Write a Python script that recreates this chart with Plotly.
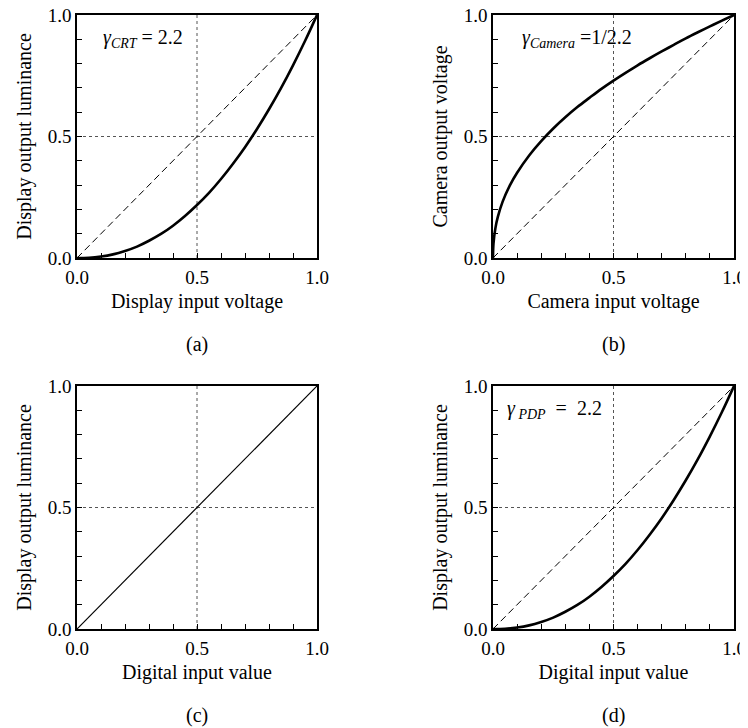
import plotly.graph_objects as go

# ---------------- data ----------------
pow_x = [0.0, 0.05, 0.10, 0.15, 0.20, 0.25, 0.30, 0.35, 0.40, 0.45, 0.50,
         0.55, 0.60, 0.65, 0.70, 0.75, 0.80, 0.85, 0.90, 0.95, 1.0]
crt_y = [0.0, 0.001, 0.006, 0.015, 0.029, 0.047, 0.071, 0.099, 0.133, 0.173, 0.218,
         0.268, 0.325, 0.388, 0.456, 0.531, 0.612, 0.699, 0.793, 0.893, 1.0]
pdp_y = [0.0, 0.001, 0.006, 0.015, 0.029, 0.047, 0.071, 0.099, 0.133, 0.173, 0.218,
         0.268, 0.325, 0.388, 0.456, 0.531, 0.612, 0.699, 0.793, 0.893, 1.0]
cam_x = [0.0, 0.002, 0.01, 0.02, 0.04, 0.07, 0.10, 0.15, 0.20, 0.25, 0.30, 0.35, 0.40,
         0.45, 0.50, 0.55, 0.60, 0.65, 0.70, 0.75, 0.80, 0.85, 0.90, 0.95, 1.0]
cam_y = [0.0, 0.059, 0.123, 0.169, 0.232, 0.299, 0.351, 0.422, 0.481, 0.533, 0.579, 0.621, 0.659,
         0.696, 0.730, 0.762, 0.793, 0.822, 0.850, 0.877, 0.904, 0.929, 0.953, 0.977, 1.0]
lin_x = [0.0, 1.0]
lin_y = [0.0, 1.0]
ref_x = [0.0, 1.0]
ref_y = [0.0, 1.0]
grid_at = 0.5
major_ticks = [0.0, 0.5, 1.0]
major_text = ["0.0", "0.5", "1.0"]
minor_step = 0.1

x_titles = ["Display input voltage", "Camera input voltage",
            "Digital input value", "Digital input value"]
y_titles = ["Display output luminance", "Camera output voltage",
            "Display output luminance", "Display output luminance"]
panel_tags = ["(a)", "(b)", "(c)", "(d)"]
gamma_labels = ["<i>γ<sub>CRT</sub></i> = 2.2",
                "<i>γ<sub>Camera</sub></i> =1/2.2",
                None,
                "<i>γ<sub> PDP</sub></i>  =  2.2"]

# ---------------- layout geometry ----------------
# The page body adds an 8px margin, so the figure is 8px smaller and
# page-pixel positions are shifted by that offset.
OFF = 8
W, H = 748 - OFF, 728 - OFF
FONT = "Liberation Serif"
boxes_page = [  # left, right, top, bottom in page pixels
    (77, 317, 15, 258),
    (493, 734, 15, 258),
    (77, 317, 386, 629),
    (493, 734, 386, 629),
]
boxes = [(l - OFF, r - OFF, t - OFF, b - OFF) for (l, r, t, b) in boxes_page]
gamma_pos = [(0.10, 0.905), (0.11, 0.905), None, (0.05, 0.905)]

fig = go.Figure()
layout = dict(
    width=W, height=H, margin=dict(l=0, r=0, t=0, b=0, autoexpand=False),
    paper_bgcolor="white", plot_bgcolor="white", showlegend=False,
    font=dict(family=FONT, size=20, color="black"),
)

curves = [
    (pow_x, crt_y, True),
    (cam_x, cam_y, True),
    (lin_x, lin_y, False),
    (pow_x, pdp_y, True),
]

annotations = []
for i, (l, r, t, b) in enumerate(boxes):
    n = "" if i == 0 else str(i + 1)
    xa, ya = "x" + n, "y" + n
    common = dict(
        range=[0, 1], tickmode="array", tickvals=major_ticks, ticktext=major_text,
        ticks="inside", ticklen=5, tickwidth=1, tickcolor="black",
        minor=dict(dtick=minor_step, tick0=0, ticks="inside", ticklen=5,
                   tickwidth=1, tickcolor="black", showgrid=False),
        showline=True, linecolor="black", linewidth=1.5, mirror=True,
        showgrid=False, zeroline=False, fixedrange=True, automargin=False,
        ticklabeloverflow="allow",
        tickfont=dict(family=FONT, size=19, color="black"),
    )
    layout["xaxis" + n] = dict(
        common, domain=[l / W, r / W], anchor=ya, ticklabelstandoff=1,
        title=dict(text=x_titles[i], font=dict(family=FONT, size=20), standoff=7),
    )
    layout["yaxis" + n] = dict(
        common, domain=[1 - b / H, 1 - t / H], anchor=xa, ticklabelstandoff=0,
        title=dict(text=y_titles[i], font=dict(family=FONT, size=20), standoff=11),
    )

    # dotted grid at 0.5
    fig.add_trace(go.Scatter(x=[grid_at, grid_at], y=[0, 1], mode="lines",
                             line=dict(color="#555", width=1, dash="dot"),
                             xaxis=xa, yaxis=ya, hoverinfo="skip"))
    fig.add_trace(go.Scatter(x=[0, 1], y=[grid_at, grid_at], mode="lines",
                             line=dict(color="#555", width=1, dash="dot"),
                             xaxis=xa, yaxis=ya, hoverinfo="skip"))

    cx, cy, has_ref = curves[i]
    if has_ref:
        fig.add_trace(go.Scatter(x=ref_x, y=ref_y, mode="lines",
                                 line=dict(color="black", width=1, dash="7px,4px"),
                                 xaxis=xa, yaxis=ya))
        fig.add_trace(go.Scatter(x=cx, y=cy, mode="lines", line_shape="spline",
                                 line=dict(color="black", width=2.6),
                                 xaxis=xa, yaxis=ya))
    else:
        fig.add_trace(go.Scatter(x=cx, y=cy, mode="lines",
                                 line=dict(color="black", width=1.2),
                                 xaxis=xa, yaxis=ya))

    if gamma_labels[i]:
        gx, gy = gamma_pos[i]
        annotations.append(dict(
            x=gx, y=gy, xref=xa, yref=ya, text=gamma_labels[i], showarrow=False,
            xanchor="left", yanchor="middle",
            font=dict(family=FONT, size=20, color="black")))

    annotations.append(dict(
        x=(l + r) / 2 / W, y=1 - (b + 86) / H, xref="paper", yref="paper",
        text=panel_tags[i], showarrow=False, xanchor="center", yanchor="middle",
        font=dict(family=FONT, size=20, color="black")))

layout["annotations"] = annotations
fig.update_layout(**layout)
fig.write_html("out.html")
